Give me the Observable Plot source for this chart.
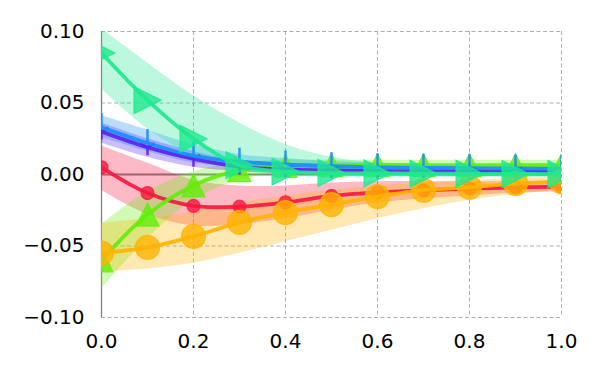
<!DOCTYPE html>
<html>
<head>
<meta charset="utf-8">
<script src="https://cdn.jsdelivr.net/npm/d3@7"></script>
<script src="https://cdn.jsdelivr.net/npm/@observablehq/plot@0.6"></script>
<style>
  html, body { margin: 0; padding: 0; background: #fff; }
</style>
</head>
<body>
<div id="chart"></div>
<script>
const xs = [0, 0.1, 0.2, 0.3, 0.4, 0.5, 0.6, 0.7, 0.8, 0.9, 1.0];
const xTicks = [0, 0.2, 0.4, 0.6, 0.8, 1.0];
const yTicks = [-0.1, -0.05, 0, 0.05, 0.1];

const springY  = [0.085, 0.052, 0.025, 0.0065, 0.002, 0.001, 0.0008, 0.0006, 0.0005, 0.0004, 0.0003];
const springHi = [0.102, 0.078, 0.055, 0.036, 0.021, 0.012, 0.008, 0.006, 0.005, 0.004, 0.004];
const springLo = [0.06, 0.032, 0.013, 0.003, -0.001, -0.002, -0.002, -0.002, -0.002, -0.002, -0.002];

const blueY  = [0.033, 0.022, 0.013, 0.009, 0.007, 0.0058, 0.005, 0.0047, 0.0044, 0.0042, 0.004];
const blueHi = [0.041, 0.031, 0.021, 0.014, 0.011, 0.009, 0.008, 0.007, 0.007, 0.006, 0.006];
const blueLo = [0.026, 0.016, 0.008, 0.005, 0.004, 0.003, 0.003, 0.003, 0.003, 0.002, 0.002];

const purpleY  = [0.030, 0.019, 0.011, 0.0056, 0.0035, 0.0028, 0.0024, 0.0022, 0.002, 0.002, 0.002];
const purpleHi = [0.036, 0.025, 0.016, 0.009, 0.006, 0.005, 0.004, 0.004, 0.003, 0.003, 0.003];
const purpleLo = [0.022, 0.012, 0.005, 0.002, 0.0005, 0.0, 0.0, 0.0, 0.0, 0.0, 0.0];

const redY  = [0.005, -0.013, -0.022, -0.0225, -0.0195, -0.015, -0.0125, -0.011, -0.0098, -0.009, -0.0085];
const redHi = [0.020, 0.008, -0.004, -0.008, -0.008, -0.006, -0.005, -0.005, -0.005, -0.005, -0.005];
const redLo = [-0.011, -0.028, -0.036, -0.035, -0.031, -0.025, -0.020, -0.017, -0.015, -0.013, -0.012];

const limeY  = [-0.06, -0.028, -0.0077, 0.003, 0.006, 0.0065, 0.0065, 0.0065, 0.0065, 0.0065, 0.0065];
const limeHi = [-0.035, -0.012, 0.002, 0.008, 0.010, 0.010, 0.010, 0.010, 0.010, 0.010, 0.010];
const limeLo = [-0.08, -0.045, -0.018, -0.004, 0.001, 0.002, 0.003, 0.003, 0.003, 0.003, 0.003];

const orangeY  = [-0.055, -0.051, -0.0433, -0.0335, -0.0266, -0.021, -0.0154, -0.011, -0.009, -0.0063, -0.005];
const orangeHi = [-0.034, -0.031, -0.026, -0.020, -0.015, -0.011, -0.008, -0.006, -0.004, -0.003, -0.002];
const orangeLo = [-0.068, -0.066, -0.062, -0.055, -0.047, -0.039, -0.031, -0.024, -0.018, -0.014, -0.011];

const colors = {
  spring: "#1ee88e",
  blue: "#1a8cff",
  purple: "#5b22f0",
  red: "#f7183f",
  lime: "#62ee0a",
  orange: "#ffb300"
};

function rows(y, lo, hi) {
  return xs.map((x, i) => ({x, y: y[i], lo: lo[i], hi: hi[i]}));
}

// custom marker shapes (matplotlib-like)
const rad = (size) => Math.sqrt(size / Math.PI);
const triRight = {draw(ctx, size) { const r = rad(size); ctx.moveTo(r, 0); ctx.lineTo(-r, -r); ctx.lineTo(-r, r); ctx.closePath(); }};
const triUp = {draw(ctx, size) { const r = rad(size); ctx.moveTo(0, -r); ctx.lineTo(r, r); ctx.lineTo(-r, r); ctx.closePath(); }};
const tickUp = {draw(ctx, size) { const r = rad(size); ctx.moveTo(0, 0); ctx.lineTo(0, -r); }};
const triDown = {draw(ctx, size) { const r = rad(size); ctx.moveTo(0, 0); ctx.lineTo(0, r); ctx.moveTo(0, 0); ctx.lineTo(-0.866 * r, -0.5 * r); ctx.moveTo(0, 0); ctx.lineTo(0.866 * r, -0.5 * r); }};

const series = [
  {key: "red", data: rows(redY, redLo, redHi), symbol: "circle", r: 6.5},
  {key: "lime", data: rows(limeY, limeLo, limeHi), symbol: triUp, r: 11.5},
  {key: "purple", data: rows(purpleY, purpleLo, purpleHi), symbol: triDown, r: 8, line: true},
  {key: "blue", data: rows(blueY, blueLo, blueHi), symbol: tickUp, r: 14, line: true},
  {key: "orange", data: rows(orangeY, orangeLo, orangeHi), symbol: "circle", r: 12},
  {key: "spring", data: rows(springY, springLo, springHi), symbol: triRight, r: 13.5}
];

const curve = "catmull-rom";
const marks = [];

marks.push(Plot.gridX(xTicks, {stroke: "#9a9a9a", strokeOpacity: 1, strokeWidth: 0.8, strokeDasharray: "4,2.5"}));
marks.push(Plot.gridY(yTicks, {stroke: "#9a9a9a", strokeOpacity: 1, strokeWidth: 0.8, strokeDasharray: "4,2.5"}));
marks.push(Plot.ruleY([0], {stroke: "#808080", strokeWidth: 2}));
marks.push(Plot.ruleX([0], {stroke: "#808080", strokeWidth: 1.3}));

for (const s of series) {
  marks.push(Plot.areaY(s.data, {x: "x", y1: "lo", y2: "hi", fill: colors[s.key], fillOpacity: 0.3, curve, clip: "frame"}));
}
for (const s of series) {
  const c = colors[s.key];
  marks.push(Plot.line(s.data, {x: "x", y: "y", stroke: c, strokeWidth: 3.8, strokeOpacity: 0.92, curve, clip: "frame"}));
  if (s.line) {
    marks.push(Plot.dot(s.data, {x: "x", y: "y", symbol: s.symbol, r: s.r, fill: "none", stroke: c, strokeWidth: 2.5, strokeOpacity: 0.9, clip: "frame"}));
  } else {
    marks.push(Plot.dot(s.data, {x: "x", y: "y", symbol: s.symbol, r: s.r, fill: c, fillOpacity: 0.8, stroke: c, strokeOpacity: 0.8, strokeWidth: 1.2, clip: "frame"}));
  }
}

marks.push(Plot.axisY(yTicks, {tickSize: 0, tickPadding: 17, fontSize: 20, label: null, tickFormat: d3.format(".2f")}));
marks.push(Plot.axisX(xTicks, {tickSize: 0, tickPadding: 16, fontSize: 20, label: null, tickFormat: d3.format(".1f")}));

const chart = Plot.plot({
  width: 600,
  height: 375,
  marginLeft: 101,
  marginRight: 39,
  marginTop: 31,
  marginBottom: 58,
  x: {domain: [0, 1]},
  y: {domain: [-0.1, 0.1]},
  style: {fontFamily: "'DejaVu Sans', sans-serif", color: "black", background: "white"},
  marks
});
document.getElementById("chart").appendChild(chart);
</script>
</body>
</html>
